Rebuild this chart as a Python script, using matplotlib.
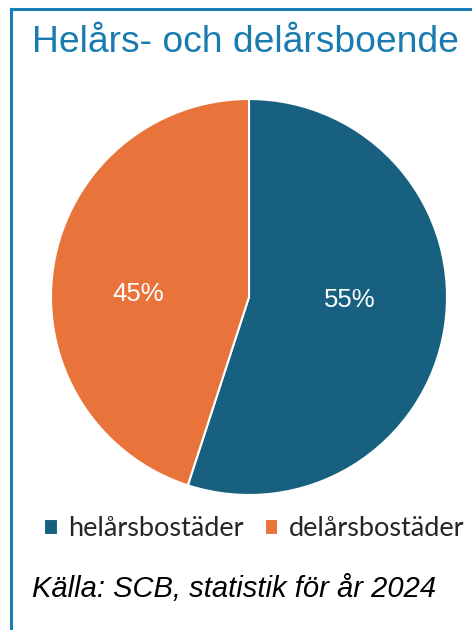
import matplotlib
matplotlib.use("Agg")
import matplotlib.pyplot as plt
from matplotlib.lines import Line2D

title = "Helårs- och delårsboende"
categories = ["helårsbostäder", "delårsbostäder"]
values = [55, 45]
labels_pct = ["55%", "45%"]
colors = ["#17607f", "#e8743b"]
source = "Källa: SCB, statistik för år 2024"

W, H = 472, 630
fig = plt.figure(figsize=(W / 100, H / 100), dpi=100)
fig.patch.set_facecolor("white")

def fx(px):
    return px / W

def fy(py):
    return 1 - py / H

# border (top & left visible)
border = "#1a7db5"
fig.add_artist(Line2D([fx(10.5), 1.0], [fy(8.5), fy(8.5)], color=border, lw=2.2, transform=fig.transFigure))
fig.add_artist(Line2D([fx(10.5), fx(10.5)], [fy(8.5), 0.0], color=border, lw=2.2, transform=fig.transFigure))

fig.text(fx(32), fy(42), title, fontsize=26.8, color="#1a7bb0", family="Liberation Sans",
         ha="left", va="center")

cx, cy, r = 249, 297, 198
ax = fig.add_axes([fx(cx - r), fy(cy + r), 2 * r / W, 2 * r / H])
wedges, _, autotexts = ax.pie(values, colors=colors, startangle=90, counterclock=False,
                              autopct=lambda p: "", pctdistance=0.52,
                              wedgeprops=dict(edgecolor="white", linewidth=1.5))
# label placement (Excel-like, roughly horizontal)
label_pos = [(0.51, -0.015), (-0.56, 0.015)]
for t, lab, pos in zip(autotexts, labels_pct, label_pos):
    t.set_text(lab)
    t.set_position(pos)
    t.set_color("white")
    t.set_fontsize(18.5)
    t.set_family("Liberation Sans")
ax.set_xlim(-1, 1)
ax.set_ylim(-1, 1)
ax.set_aspect("equal")
ax.axis("off")

leg = fig.legend(wedges, categories, loc="center", bbox_to_anchor=(fx(254), fy(529)),
                 ncol=2, frameon=False, prop=dict(family="Lato", size=19.5),
                 handlelength=0.5, handleheight=0.5, handletextpad=0.37, columnspacing=0.8)
for t in leg.get_texts():
    t.set_color("#262626")

fig.text(fx(32), fy(589), source, fontsize=21, style="italic", family="Liberation Sans",
         color="black", ha="left", va="center")

fig.savefig("out.png", dpi=100)
